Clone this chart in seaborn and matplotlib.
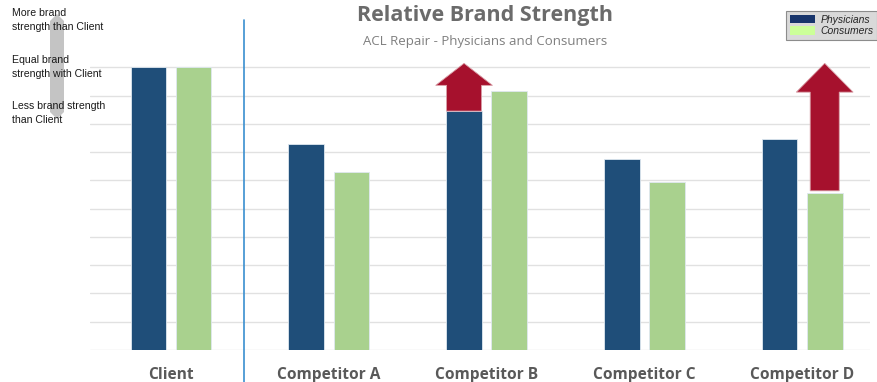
import matplotlib
matplotlib.use("Agg")
import matplotlib.pyplot as plt
import seaborn as sns
import pandas as pd
from matplotlib.patches import Patch, FancyArrow, Polygon

# values (grid step = 1 unit, Client = 10)
companies = ["Client", "Competitor A", "Competitor B", "Competitor C", "Competitor D"]
physicians = [10.0, 7.28, 8.45, 6.75, 7.48]
consumers = [10.0, 6.29, 9.15, 5.94, 5.55]
series = ["Physicians", "Consumers"]
bar_colors = ["#1f4e79", "#a9d18e"]
legend_colors = ["#17346b", "#ccff99"]
arrow_color = "#a6112d"

rows = []
for c, p, s in zip(companies, physicians, consumers):
    rows.append({"company": c, "group": "Physicians", "score": p})
    rows.append({"company": c, "group": "Consumers", "score": s})
df = pd.DataFrame(rows)

sns.set_style("white")
plt.rcParams["font.family"] = ["Liberation Sans", "DejaVu Sans"]

fig = plt.figure(figsize=(8.78, 3.82), dpi=100)
ax = fig.add_axes([90 / 878, 32 / 382, 780 / 878, 311 / 382])

sns.barplot(data=df, x="company", y="score", hue="group", hue_order=series,
            palette=bar_colors, saturation=1, width=0.572, gap=0.21, ax=ax,
            edgecolor="#dfe8f0", linewidth=0.6, legend=False, zorder=2)

ax.set_ylim(0, 11)
ax.set_xlim(-0.514, 4.43)
ax.set_yticks(range(0, 11))
ax.set_yticklabels([])
ax.yaxis.grid(True, color="#e1e1e1", linewidth=1, zorder=0)
ax.set_axisbelow(True)
ax.tick_params(axis="both", length=0)
ax.tick_params(axis="x", pad=12)
for lbl in ax.get_xticklabels():
    lbl.set_family(["Open Sans", "DejaVu Sans"])
    lbl.set_fontweight("bold")
    lbl.set_fontsize(11.2)
    lbl.set_color("#595959")
ax.set_xlabel("")
ax.set_ylabel("")
sns.despine(ax=ax, left=True, bottom=True)

# separator between client and competitors
ax.axvline(0.463, ymin=-0.12, ymax=1.06, color="#3a8fd0", linewidth=1.2, clip_on=False)

# growth arrows
off = 0.143
tip = 10.14
b_x = 2 - off
ax.add_patch(FancyArrow(b_x, physicians[2], 0, tip - physicians[2], width=0.222,
                        head_width=0.36, head_length=0.78, length_includes_head=True,
                        facecolor=arrow_color, edgecolor="#d9a0a8", linewidth=0.6, zorder=3))
d_x = 4 + off
d_base = consumers[4] + 0.08
ax.add_patch(FancyArrow(d_x, d_base, 0, tip - d_base, width=0.184,
                        head_width=0.36, head_length=1.02, length_includes_head=True,
                        facecolor=arrow_color, edgecolor="#d9a0a8", linewidth=0.6, zorder=3))

# titles
fig.text(485 / 878, 1 - 16 / 382, "Relative Brand Strength", ha="center", va="center",
         fontsize=15.5, fontweight="bold", color="#6b6b6b", family=["Open Sans", "DejaVu Sans"])
fig.text(485 / 878, 1 - 42 / 382, "ACL Repair - Physicians and Consumers", ha="center",
         va="center", fontsize=9.5, color="#7f7f7f", family=["Open Sans", "DejaVu Sans"])

# left scale explanation with gray double arrow
W, H = 878, 382
fig.add_artist(Polygon([(x / W, 1 - y / H) for x, y in
                        [(50, 21), (57, 14), (64, 21), (64, 112), (57, 119), (50, 112)]],
                       closed=True, transform=fig.transFigure, facecolor="#c4c4c4",
                       edgecolor="none", zorder=0))
notes = [(8, "More brand\nstrength than Client"),
         (55, "Equal brand\nstrength with Client"),
         (101, "Less brand strength\nthan Client")]
for y, t in notes:
    fig.text(12 / W, 1 - y / H, t, ha="left", va="top", fontsize=7.6,
             color="#1a1a1a", linespacing=1.45, zorder=2)

# legend
handles = [Patch(facecolor=c, edgecolor="none") for c in legend_colors]
leg = fig.legend(handles, series, loc="upper right", bbox_to_anchor=(877 / W, 1 - 11 / H),
                 frameon=True, fancybox=False, framealpha=1, facecolor="#d9d9d9",
                 edgecolor="#8c8c8c", prop={"style": "italic", "size": 7.5},
                 handlelength=2.4, handleheight=0.9, handletextpad=0.5,
                 labelspacing=0.15, borderpad=0.35, borderaxespad=0)
leg.get_frame().set_linewidth(0.8)

fig.savefig("out.png", dpi=100)
